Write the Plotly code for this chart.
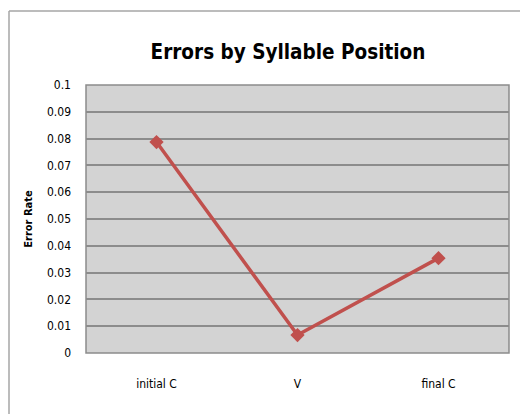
import plotly.graph_objects as go

categories = ["initial C", "V", "final C"]
error_rate = [0.0787, 0.0067, 0.0354]
y_ticks = [0, 0.01, 0.02, 0.03, 0.04, 0.05, 0.06, 0.07, 0.08, 0.09, 0.1]
y_tick_labels = ["0", "0.01", "0.02", "0.03", "0.04", "0.05", "0.06", "0.07", "0.08", "0.09", "0.1"]

W, H = 520, 414
L, R, T, B = 86, 11, 85, 61
pw, ph = W - L - R, H - T - B

def px(x):
    return (x - L) / pw

def py(y):
    return 1 - (y - T) / ph

font = "DejaVu Sans Condensed, Liberation Sans Narrow, Open Sans, Arial"

fig = go.Figure()
fig.add_trace(go.Scatter(
    x=categories, y=error_rate, mode="lines+markers",
    line=dict(color="#c0504d", width=3.5),
    marker=dict(symbol="diamond", size=11, color="#c0504d"),
    cliponaxis=False,
))

fig.update_layout(
    width=W, height=H,
    margin=dict(l=L, r=R, t=T, b=B, autoexpand=False),
    paper_bgcolor="white",
    plot_bgcolor="#d3d3d3",
    showlegend=False,
    font=dict(family=font, color="#000000"),
    title=dict(text="<b>Errors by Syllable Position</b>", x=288 / W, xanchor="center",
               y=1 - 52 / H, yanchor="middle", font=dict(size=20.5, family=font)),
    xaxis=dict(type="category", range=[-0.5, 2.5], showgrid=False, ticks="",
               tickfont=dict(size=12), showline=False, zeroline=False,
               ticklabelstandoff=22, automargin=False),
    yaxis=dict(range=[0, 0.1], tickvals=y_ticks, ticktext=y_tick_labels,
               showgrid=True, gridcolor="#8c8c8c", gridwidth=1.5, zeroline=False,
               ticks="", tickfont=dict(size=12), ticklabelstandoff=14,
               showline=False, automargin=False,
               title=dict(text="<b>Error Rate</b>", font=dict(size=11), standoff=12)),
)

# plot area border
fig.add_shape(type="rect", xref="paper", yref="paper", x0=0, x1=1, y0=0, y1=1,
              line=dict(color="#8c8c8c", width=1.5))
# chart outer border (left and top)
fig.add_shape(type="line", xref="paper", yref="paper", x0=px(9), x1=px(9), y0=py(11), y1=py(420),
              line=dict(color="#a6a6a6", width=1.5))
fig.add_shape(type="line", xref="paper", yref="paper", x0=px(9), x1=px(525), y0=py(11), y1=py(11),
              line=dict(color="#a6a6a6", width=1.5))

fig.write_html("out.html", config={"displayModeBar": False},
               post_script="document.body.style.margin='0';document.body.style.overflow='hidden';")
